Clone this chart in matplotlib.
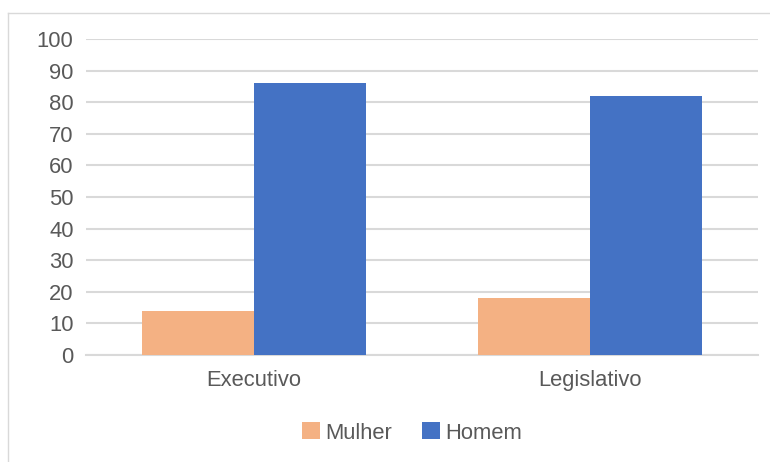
import matplotlib.pyplot as plt
from matplotlib.lines import Line2D
import numpy as np

categories = ['Executivo', 'Legislativo']
mulher = [14, 18]
homem = [86, 82]
series_names = ['Mulher', 'Homem']
yticks = list(range(0, 101, 10))

plt.rcParams['font.family'] = ['Liberation Sans', 'DejaVu Sans']
text_color = '#595959'
grid_color = '#D9D9D9'
fs = 15.8

fig = plt.figure(figsize=(7.7, 4.62), dpi=100)
ax = fig.add_axes([86 / 770, 1 - 355 / 462, (758 - 86) / 770, (355 - 39) / 462])

x = np.arange(len(categories))
w = 1 / 3
ax.bar(x - w / 2, mulher, w, color='#F4B183', label=series_names[0], zorder=3)
ax.bar(x + w / 2, homem, w, color='#4472C4', label=series_names[1], zorder=3)

ax.set_xlim(-0.5, len(categories) - 0.5)
ax.set_ylim(0, 100)
ax.set_yticks(yticks)
ax.set_xticks(x)
ax.set_xticklabels(categories)
ax.yaxis.grid(True, color=grid_color, linewidth=1.5, zorder=0)
for s in ['top', 'right', 'left']:
    ax.spines[s].set_visible(False)
ax.spines['bottom'].set_color(grid_color)
ax.spines['bottom'].set_linewidth(1.5)
ax.tick_params(axis='both', length=0, labelsize=fs, colors=text_color)
ax.tick_params(axis='y', pad=9)
ax.tick_params(axis='x', pad=11)

fig.legend(loc='center', bbox_to_anchor=(412 / 770, 1 - 433 / 462), ncol=2,
           frameon=False, fontsize=fs, labelcolor=text_color,
           handlelength=0.82, handleheight=0.82, handletextpad=0.23, columnspacing=1.4)

# chart border (left and top visible)
fig.add_artist(Line2D([8 / 770, 8 / 770], [0, 1 - 13 / 462], transform=fig.transFigure,
                      color='#D9D9D9', linewidth=1))
fig.add_artist(Line2D([8 / 770, 1], [1 - 13 / 462, 1 - 13 / 462], transform=fig.transFigure,
                      color='#D9D9D9', linewidth=1))

fig.savefig('out.png', dpi=100)
